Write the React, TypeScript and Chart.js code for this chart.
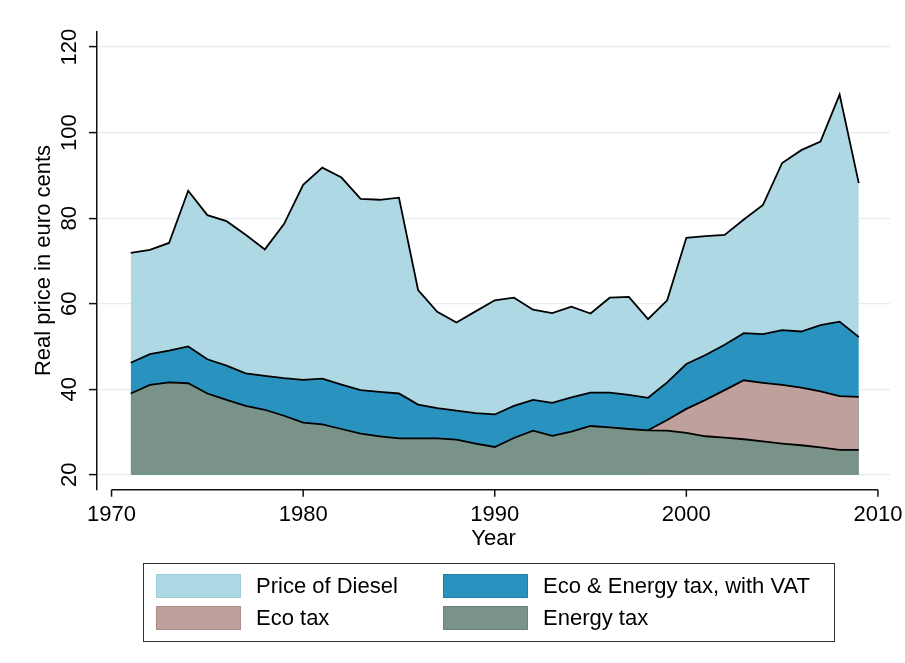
import React, { useEffect, useRef } from "react";
import { Chart, registerables } from "chart.js";

Chart.register(...registerables);

const FONT = '"Liberation Sans", Arial, Helvetica, sans-serif';

const years = [
  1971, 1972, 1973, 1974, 1975, 1976, 1977, 1978, 1979, 1980,
  1981, 1982, 1983, 1984, 1985, 1986, 1987, 1988, 1989, 1990,
  1991, 1992, 1993, 1994, 1995, 1996, 1997, 1998, 1999, 2000,
  2001, 2002, 2003, 2004, 2005, 2006, 2007, 2008, 2009,
];

const dieselPrice = [
  71.9, 72.6, 74.2, 86.4, 80.7, 79.3, 76.1, 72.7, 78.6, 87.8,
  91.8, 89.5, 84.5, 84.3, 84.8, 63.2, 58.1, 55.6, 58.2, 60.8,
  61.4, 58.6, 57.8, 59.3, 57.7, 61.4, 61.6, 56.4, 60.8, 75.4,
  75.8, 76.1, 79.7, 83.1, 92.9, 95.9, 97.9, 108.9, 88.2,
];

const ecoEnergyTaxVAT = [
  46.2, 48.2, 49.0, 50.0, 47.0, 45.5, 43.7, 43.1, 42.6, 42.2,
  42.5, 41.1, 39.8, 39.4, 39.0, 36.4, 35.6, 35.0, 34.4, 34.1,
  36.1, 37.5, 36.8, 38.1, 39.2, 39.2, 38.7, 38.0, 41.6, 45.9,
  48.0, 50.4, 53.1, 52.9, 53.8, 53.5, 55.0, 55.8, 52.2,
];

const ecoTax: (number | null)[] = [
  null, null, null, null, null, null, null, null, null, null,
  null, null, null, null, null, null, null, null, null, null,
  null, null, null, null, null, null, null, 30.4, 32.8, 35.4,
  37.5, 39.8, 42.1, 41.5, 41.0, 40.4, 39.5, 38.4, 38.2,
];

const energyTax = [
  39.0, 41.0, 41.6, 41.4, 39.0, 37.5, 36.1, 35.2, 33.8, 32.2,
  31.8, 30.7, 29.6, 29.0, 28.5, 28.5, 28.5, 28.2, 27.3, 26.5,
  28.6, 30.3, 29.1, 30.1, 31.4, 31.1, 30.7, 30.4, 30.3, 29.8,
  29.0, 28.7, 28.3, 27.8, 27.3, 26.9, 26.4, 25.8, 25.8,
];

const yTicks = [20, 40, 60, 80, 100, 120];
const xTicks = [1970, 1980, 1990, 2000, 2010];
const fillBase = 20;

const seriesNames = ["Price of Diesel", "Eco & Energy tax, with VAT", "Eco tax", "Energy tax"];
const seriesColors = ["#aed8e4", "#2a92bf", "#c0a09c", "#7a9388"];
const seriesBorders = ["#9ccbda", "#1f7fab", "#ad8c88", "#6a8377"];

function toPoints(values: (number | null)[]) {
  const pts: { x: number; y: number }[] = [];
  values.forEach((v, i) => {
    if (v !== null) pts.push({ x: years[i], y: v });
  });
  return pts;
}

const stataAxes = {
  id: "stataAxes",
  afterDraw(chart: any) {
    const { ctx, chartArea, scales } = chart;
    const x = scales.x;
    const y = scales.y;
    ctx.save();
    const lineY = chartArea.bottom + 0.5;
    ctx.strokeStyle = "#111";
    ctx.lineWidth = 1.5;
    ctx.beginPath();
    ctx.moveTo(x.getPixelForValue(xTicks[0]), lineY);
    ctx.lineTo(x.getPixelForValue(xTicks[xTicks.length - 1]), lineY);
    xTicks.forEach((v) => {
      const px = x.getPixelForValue(v);
      ctx.moveTo(px, lineY);
      ctx.lineTo(px, lineY + 7);
    });
    ctx.stroke();

    ctx.font = `22px ${FONT}`;
    ctx.fillStyle = "#000";
    ctx.textAlign = "center";
    ctx.textBaseline = "alphabetic";
    yTicks.forEach((v) => {
      ctx.save();
      ctx.translate(y.right - 21, y.getPixelForValue(v));
      ctx.rotate(-Math.PI / 2);
      ctx.fillText(String(v), 0, 0);
      ctx.restore();
    });
    ctx.restore();
  },
};

export default function App() {
  const canvasRef = useRef<HTMLCanvasElement | null>(null);

  useEffect(() => {
    if (!canvasRef.current) return;
    const valueSets = [energyTax, ecoTax, ecoEnergyTaxVAT, dieselPrice];
    const nameIdx = [3, 2, 1, 0];
    const chart = new Chart(canvasRef.current, {
      type: "line",
      data: {
        datasets: valueSets.map((vals, k) => ({
          label: seriesNames[nameIdx[k]],
          data: toPoints(vals as (number | null)[]),
          borderColor: "#000",
          borderWidth: 1.8,
          backgroundColor: seriesColors[nameIdx[k]],
          fill: { value: fillBase },
          pointRadius: 0,
          tension: 0,
        })),
      },
      options: {
        animation: false,
        responsive: false,
        devicePixelRatio: 1,
        layout: { padding: { left: 0, right: 15, top: 31.7, bottom: 113.3 } },
        plugins: {
          legend: { display: false },
          tooltip: { enabled: false },
        },
        scales: {
          x: {
            type: "linear",
            min: 1969.24,
            max: 2010.63,
            afterBuildTicks: (scale: any) => {
              scale.ticks = xTicks.map((v) => ({ value: v }));
            },
            afterFit: (scale: any) => {
              scale.height = 60.4;
              scale.paddingLeft = 0;
              scale.paddingRight = 0;
            },
            grid: { display: false, drawTicks: false },
            border: { display: false },
            ticks: {
              padding: 12,
              maxRotation: 0,
              autoSkip: false,
              color: "#000",
              font: { family: FONT, size: 22, lineHeight: 1.2 },
              callback: (v: any) => String(v),
            },
            title: {
              display: true,
              text: "Year",
              color: "#000",
              padding: { top: 0, bottom: 0 },
              font: { family: FONT, size: 22, lineHeight: 1 },
            },
          },
          y: {
            type: "linear",
            min: 16.6,
            max: 123.6,
            afterBuildTicks: (scale: any) => {
              scale.ticks = yTicks.map((v) => ({ value: v }));
            },
            afterFit: (scale: any) => {
              scale.width = 97;
              scale.paddingTop = 0;
              scale.paddingBottom = 0;
            },
            grid: {
              color: "#e4eef1",
              lineWidth: 1.2,
              tickColor: "#111",
              tickLength: 8,
              tickWidth: 1.5,
            },
            border: { display: true, color: "#111", width: 1.5 },
            ticks: { display: false },
            title: {
              display: true,
              text: "Real price in euro cents",
              color: "#000",
              padding: { top: 33, bottom: 0 },
              font: { family: FONT, size: 22, lineHeight: 1 },
            },
          },
        },
      },
      plugins: [stataAxes],
    });
    return () => chart.destroy();
  }, []);

  const legendItems = [
    { idx: 0, left: 12, top: 10 },
    { idx: 1, left: 299, top: 10 },
    { idx: 2, left: 12, top: 42 },
    { idx: 3, left: 299, top: 42 },
  ];

  return (
    <div style={{ position: "absolute", left: 0, top: 0, width: 905, height: 663, background: "#fff" }}>
      <canvas ref={canvasRef} width={905} height={663} style={{ display: "block" }} />
      <div
        style={{
          position: "absolute",
          left: 143,
          top: 563,
          width: 692,
          height: 79,
          border: "1.5px solid #333",
          boxSizing: "border-box",
          fontFamily: FONT,
          fontSize: 22,
          color: "#000",
        }}
      >
        {legendItems.map((it) => (
          <React.Fragment key={it.idx}>
            <div
              style={{
                position: "absolute",
                left: it.left,
                top: it.top,
                width: 85,
                height: 24,
                boxSizing: "border-box",
                background: seriesColors[it.idx],
                border: `1.5px solid ${seriesBorders[it.idx]}`,
              }}
            />
            <div
              style={{
                position: "absolute",
                left: it.left + 100,
                top: it.top,
                height: 24,
                lineHeight: "24px",
                whiteSpace: "nowrap",
              }}
            >
              {seriesNames[it.idx]}
            </div>
          </React.Fragment>
        ))}
      </div>
    </div>
  );
}
